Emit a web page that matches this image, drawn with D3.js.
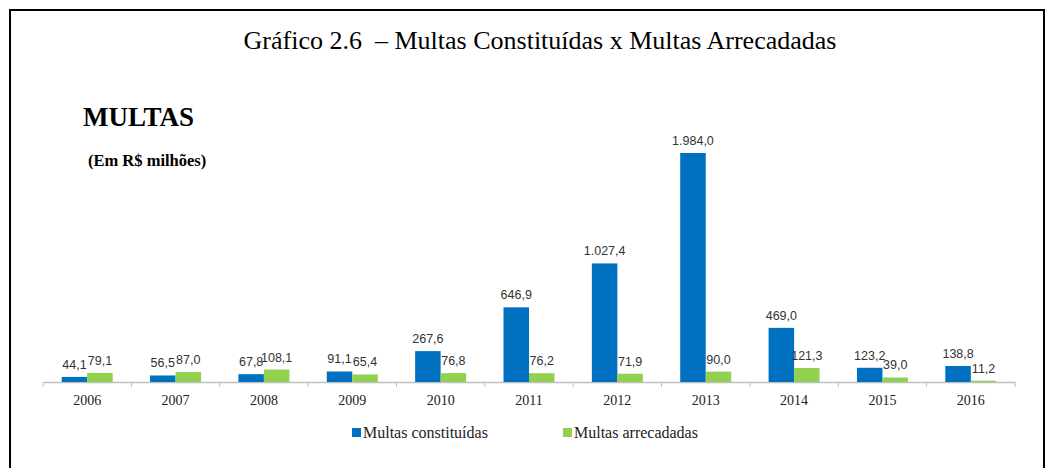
<!DOCTYPE html>
<html>
<head>
<meta charset="utf-8">
<script src="https://cdn.jsdelivr.net/npm/d3@7"></script>
<style>
  body { margin: 0; background: #fff; }
  svg { display: block; }
</style>
</head>
<body>
<div id="chart"></div>
<script>
// Data (R$ milhões)
const years = ["2006", "2007", "2008", "2009", "2010", "2011", "2012", "2013", "2014", "2015", "2016"];
const constituidas = [44.1, 56.5, 67.8, 91.1, 267.6, 646.9, 1027.4, 1984.0, 469.0, 123.2, 138.8];
const arrecadadas = [79.1, 87.0, 108.1, 65.4, 76.8, 76.2, 71.9, 90.0, 121.3, 39.0, 11.2];
const seriesNames = ["Multas constituídas", "Multas arrecadadas"];
const colors = ["#0070C0", "#92D050"];

const W = 1046, H = 468;
const svg = d3.select("#chart").append("svg")
    .attr("width", W)
    .attr("height", H);

// frame (open at the bottom)
svg.append("path")
    .attr("d", "M10,468 V10 H1044 V468")
    .attr("fill", "none")
    .attr("stroke", "#000")
    .attr("stroke-width", 2);

// titles
svg.append("text")
    .attr("x", 540).attr("y", 49)
    .attr("text-anchor", "middle")
    .style("white-space", "pre")
    .style("font-family", "'Liberation Serif', 'Times New Roman', serif")
    .style("font-size", "26px")
    .text("Gráfico 2.6  – Multas Constituídas x Multas Arrecadadas");

svg.append("text")
    .attr("x", 83).attr("y", 126)
    .style("font-family", "'Liberation Serif', 'Times New Roman', serif")
    .style("font-weight", "bold")
    .style("font-size", "27px")
    .text("MULTAS");

svg.append("text")
    .attr("x", 88).attr("y", 166)
    .style("font-family", "'Liberation Serif', 'Times New Roman', serif")
    .style("font-weight", "bold")
    .style("font-size", "16.5px")
    .text("(Em R$ milhões)");

// scales
const baseY = 382;
const x = d3.scaleBand()
    .domain(years)
    .range([43, 1015])
    .padding(0);

const y = d3.scaleLinear()
    .domain([0, 1984])
    .range([baseY, 153]);

const barW = 25.5;
const sub = d3.scaleBand()
    .domain([0, 1])
    .range([-barW, barW]);

// axis
const axis = svg.append("g")
    .attr("transform", "translate(0," + baseY + ")")
    .call(d3.axisBottom(x).tickSize(0).tickPadding(0).tickFormat(""));
axis.select(".domain").attr("stroke", "#bfbfbf").attr("stroke-width", 1.5);

// boundary ticks
svg.append("g").selectAll("line")
    .data(years.concat(["end"]))
    .enter().append("line")
    .attr("x1", (d, i) => i < years.length ? x(d) : x.range()[1])
    .attr("x2", (d, i) => i < years.length ? x(d) : x.range()[1])
    .attr("y1", baseY)
    .attr("y2", baseY + 5)
    .attr("stroke", "#bfbfbf")
    .attr("stroke-width", 1);

// year labels
svg.append("g").selectAll("text")
    .data(years)
    .enter().append("text")
    .attr("x", d => x(d) + x.bandwidth() / 2)
    .attr("y", 405)
    .attr("text-anchor", "middle")
    .style("font-family", "'Liberation Serif', 'Times New Roman', serif")
    .style("font-size", "14px")
    .attr("fill", "#222")
    .text(d => d);

// bars
const rows = years.map((yr, i) => ({ year: yr, vals: [constituidas[i], arrecadadas[i]] }));
const groups = svg.append("g").selectAll("g")
    .data(rows)
    .enter().append("g")
    .attr("transform", d => "translate(" + (x(d.year) + x.bandwidth() / 2) + ",0)");

groups.selectAll("rect")
    .data(d => d.vals.map((v, k) => ({ v, k })))
    .enter().append("rect")
    .attr("x", d => sub(d.k))
    .attr("y", d => y(d.v))
    .attr("width", sub.bandwidth())
    .attr("height", d => baseY - y(d.v))
    .attr("fill", d => colors[d.k]);

const fmt = v => d3.format(",.1f")(v).replace(/,/g, "#").replace(".", ",").replace(/#/g, ".");

groups.selectAll("text")
    .data(d => d.vals.map((v, k) => ({ v, k })))
    .enter().append("text")
    .attr("x", d => sub(d.k) + sub.bandwidth() / 2)
    .attr("y", d => y(d.v) - 8)
    .attr("text-anchor", "middle")
    .style("font-family", "'Liberation Sans', Arial, sans-serif")
    .style("font-size", "12.5px")
    .attr("fill", "#333")
    .text(d => fmt(d.v));

// legend
const legend = svg.append("g").selectAll("g")
    .data(seriesNames)
    .enter().append("g")
    .attr("transform", (d, i) => "translate(" + [352, 563][i] + ",0)");
legend.append("rect")
    .attr("x", 0).attr("y", 428)
    .attr("width", 9).attr("height", 9)
    .attr("fill", (d, i) => colors[i]);
legend.append("text")
    .attr("x", 11).attr("y", 438)
    .style("font-family", "'Liberation Serif', 'Times New Roman', serif")
    .style("font-size", "16px")
    .attr("fill", "#222")
    .text(d => d);
</script>
</body>
</html>
